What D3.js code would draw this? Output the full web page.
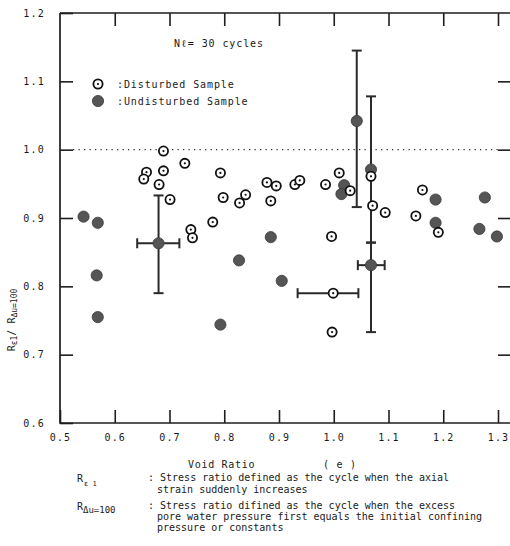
<!DOCTYPE html>
<html>
<head>
<meta charset="utf-8">
<script src="https://cdn.jsdelivr.net/npm/d3@7/dist/d3.min.js"></script>
<style>
  html, body { margin: 0; padding: 0; background: #fff; }
  svg { display: block; }
  text { font-family: "DejaVu Sans Mono", "Liberation Mono", monospace; fill: #1a1a1a; }
</style>
</head>
<body>
<svg id="chart" width="510" height="546"></svg>
<script>
// Void ratio (e) vs. stress ratio R_e1 / R_du=100, N = 30 cycles
const xTickValues = [0.5, 0.6, 0.7, 0.8, 0.9, 1.0, 1.1, 1.2, 1.3];
const yTickValues = [0.6, 0.7, 0.8, 0.9, 1.0, 1.1, 1.2];

// Disturbed samples: [void ratio, stress ratio]
const disturbed = [
  [0.689, 0.998], [0.728, 0.980], [0.658, 0.967], [0.653, 0.957],
  [0.689, 0.969], [0.681, 0.949], [0.701, 0.927], [0.739, 0.883],
  [0.742, 0.871], [0.779, 0.894], [0.793, 0.966], [0.798, 0.930],
  [0.828, 0.922], [0.839, 0.934], [0.878, 0.952], [0.885, 0.925],
  [0.895, 0.947], [0.929, 0.949], [0.938, 0.955], [0.985, 0.949],
  [1.010, 0.966], [1.030, 0.940], [1.068, 0.961], [1.071, 0.918],
  [1.094, 0.908], [1.150, 0.903], [1.162, 0.941], [1.191, 0.879],
  [0.996, 0.873], [0.999, 0.790], [0.997, 0.733]
];

// Undisturbed samples: [void ratio, stress ratio]
const undisturbed = [
  [0.543, 0.902], [0.569, 0.893], [0.567, 0.816], [0.569, 0.755],
  [0.680, 0.863], [0.827, 0.838], [0.885, 0.872], [0.793, 0.744],
  [0.905, 0.808], [1.019, 0.948], [1.014, 0.935], [1.042, 1.042],
  [1.068, 0.971], [1.068, 0.831], [1.186, 0.927], [1.186, 0.893],
  [1.276, 0.930], [1.266, 0.884], [1.298, 0.873]
];

// Scatter ranges: vertical [x, yLow, yHigh], horizontal [y, xLow, xHigh]
const verticalBars = [
  [0.680, 0.790, 0.933],
  [1.042, 0.916, 1.145],
  [1.068, 0.864, 1.078],
  [1.068, 0.733, 0.864]
];
const horizontalBars = [
  [0.863, 0.641, 0.718],
  [0.831, 1.044, 1.093],
  [0.790, 0.934, 1.045]
];

const svg = d3.select("#chart");
const plotLeft = 60, plotRight = 498, plotTop = 13, plotBottom = 423, frameRight = 511;

const x = d3.scaleLinear().domain([0.5, 1.3]).range([plotLeft, plotRight]);
const y = d3.scaleLinear().domain([0.6, 1.2]).range([plotBottom, plotTop]);
const fmt = d3.format(".1f");
const ink = "#1e1e1e";

// Reference line at a stress ratio of 1.0
svg.append("line")
  .attr("x1", plotLeft + 13).attr("x2", plotRight)
  .attr("y1", y(1.0)).attr("y2", y(1.0))
  .attr("stroke", "#333").attr("stroke-width", 1.3)
  .attr("stroke-dasharray", "1.3,4.2");

// Axes with inward ticks
const tickStyle = g => {
  g.select(".domain").remove();
  g.attr("font-family", null);
  g.selectAll(".tick line").attr("stroke", ink).attr("stroke-width", 1.6);
  g.selectAll(".tick text")
    .attr("font-size", 10)
    .attr("letter-spacing", "1.2px")
    .attr("fill", "#1a1a1a");
};

svg.append("g").attr("transform", `translate(0,${plotBottom})`)
  .call(d3.axisBottom(x).tickValues(xTickValues).tickFormat(fmt)
    .tickSizeInner(-13).tickSizeOuter(0).tickPadding(11))
  .call(tickStyle);

svg.append("g").attr("transform", `translate(0,${plotTop})`)
  .call(d3.axisTop(x).tickValues(xTickValues.slice(1)).tickFormat("")
    .tickSizeInner(-13).tickSizeOuter(0))
  .call(tickStyle);

svg.append("g").attr("transform", `translate(${plotLeft},0)`)
  .call(d3.axisLeft(y).tickValues(yTickValues).tickFormat(fmt)
    .tickSizeInner(-13).tickSizeOuter(0).tickPadding(15))
  .call(tickStyle);

svg.append("g").attr("transform", `translate(${frameRight},0)`)
  .call(d3.axisRight(y).tickValues(yTickValues.slice(1, -1)).tickFormat("")
    .tickSizeInner(-13).tickSizeOuter(0))
  .call(tickStyle);

// Frame
const frame = svg.append("g").attr("stroke", ink).attr("stroke-width", 1.7).attr("fill", "none");
frame.append("path").attr("d", `M${plotLeft},${plotTop}V${plotBottom}H${frameRight}`);
frame.append("path").attr("d", `M${plotLeft},${plotTop}H${frameRight}`);

// Ranges
const bars = svg.append("g").attr("stroke", "#2a2a2a").attr("stroke-width", 2);
const cap = 5;
verticalBars.forEach(([cx, lo, hi]) => {
  bars.append("line").attr("x1", x(cx)).attr("x2", x(cx)).attr("y1", y(lo)).attr("y2", y(hi));
  [lo, hi].forEach(v => bars.append("line")
    .attr("x1", x(cx) - cap).attr("x2", x(cx) + cap).attr("y1", y(v)).attr("y2", y(v)));
});
horizontalBars.forEach(([cy, lo, hi]) => {
  bars.append("line").attr("x1", x(lo)).attr("x2", x(hi)).attr("y1", y(cy)).attr("y2", y(cy));
  [lo, hi].forEach(v => bars.append("line")
    .attr("x1", x(v)).attr("x2", x(v)).attr("y1", y(cy) - cap).attr("y2", y(cy) + cap));
});

// Markers
function openMarker(g, cx, cy) {
  g.append("circle").attr("cx", cx).attr("cy", cy).attr("r", 4.6)
    .attr("fill", "#fff").attr("stroke", "#111").attr("stroke-width", 1.8);
  g.append("circle").attr("cx", cx).attr("cy", cy).attr("r", 1.1).attr("fill", "#111");
}
function filledMarker(g, cx, cy) {
  g.append("circle").attr("cx", cx).attr("cy", cy).attr("r", 5.6)
    .attr("fill", "#555").attr("stroke", "#3a3a3a").attr("stroke-width", 0.8);
}

const pts = svg.append("g");
undisturbed.forEach(([e, r]) => filledMarker(pts, x(e), y(r)));
disturbed.forEach(([e, r]) => openMarker(pts, x(e), y(r)));

// Annotation and legend
svg.append("text").attr("x", 174).attr("y", 47)
  .attr("font-size", 10).attr("letter-spacing", "0.9px")
  .text("N\u2113= 30 cycles");

openMarker(svg, 98, 84);
svg.append("text").attr("x", 117).attr("y", 88)
  .attr("font-size", 10).attr("letter-spacing", "0.9px").text(":Disturbed Sample");
filledMarker(svg, 98, 101);
svg.append("text").attr("x", 117).attr("y", 105)
  .attr("font-size", 10).attr("letter-spacing", "0.9px").text(":Undisturbed Sample");

// Axis titles
svg.append("text").attr("x", 188).attr("y", 468)
  .attr("font-size", 10).attr("letter-spacing", "0.7px").text("Void Ratio");
svg.append("text").attr("x", 323).attr("y", 468)
  .attr("font-size", 10).attr("letter-spacing", "0.7px").attr("xml:space", "preserve").text("( e )");

const yTitle = svg.append("text")
  .attr("transform", "translate(15,320) rotate(-90)")
  .attr("text-anchor", "middle")
  .attr("font-family", "'DejaVu Sans', sans-serif")
  .attr("font-size", 10);
yTitle.append("tspan").text("R");
yTitle.append("tspan").attr("font-size", 8).attr("dy", 2).text("\u03b51");
yTitle.append("tspan").attr("dy", -2).text("/ R");
yTitle.append("tspan").attr("font-size", 8).attr("dy", 2).text("\u0394u=100");

// Definitions
const note = svg.append("g").attr("font-size", 10);
const r1 = note.append("text").attr("x", 77).attr("y", 482).attr("font-family", "'DejaVu Sans', sans-serif");
r1.append("tspan").text("R");
r1.append("tspan").attr("font-size", 7).attr("dy", 4).attr("dx", 1).text("\u03b5 1");
note.append("text").attr("x", 148).attr("y", 481).text(": Stress ratio defined as the cycle when the axial");
note.append("text").attr("x", 157).attr("y", 493).text("strain suddenly increases");

const r2 = note.append("text").attr("x", 77).attr("y", 510).attr("font-family", "'DejaVu Sans', sans-serif");
r2.append("tspan").text("R");
r2.append("tspan").attr("font-size", 9).attr("dy", 3).text("\u0394u=100");
note.append("text").attr("x", 148).attr("y", 509).text(": Stress ratio difined as the cycle when the excess");
note.append("text").attr("x", 157).attr("y", 520).text("pore water pressure first equals the initial confining");
note.append("text").attr("x", 157).attr("y", 531).text("pressure or constants");
</script>
</body>
</html>
